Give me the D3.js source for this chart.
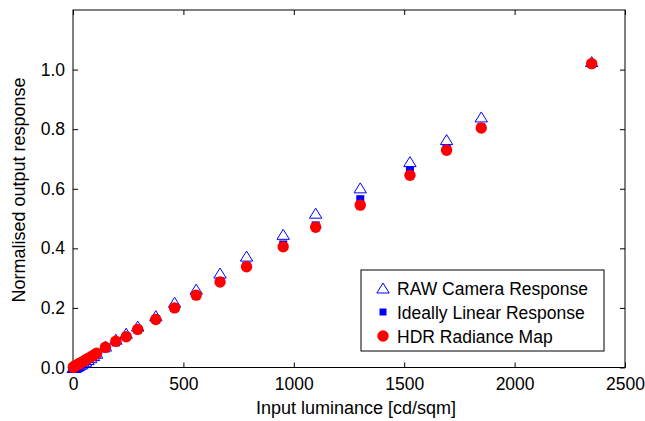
<!DOCTYPE html>
<html>
<head>
<meta charset="utf-8">
<script src="https://cdn.jsdelivr.net/npm/d3@7"></script>
<style>
  body { margin: 0; background: #fff; }
  text { font-family: "Liberation Sans", Arial, sans-serif; }
</style>
</head>
<body>
<svg id="svg1" width="645" height="421"></svg>
<script>
// luminance of each patch [cd/sqm]
var luminance = [1.5, 3, 5, 8, 12, 17, 23, 30, 38, 47, 57, 68, 80, 93, 107, 147, 194, 241, 293, 375, 460, 558, 666, 786, 952, 1099, 1301, 1526, 1692, 1849, 2349];
// normalised responses
var rawResponse = [0, 0, 0, 0.001, 0.002, 0.004, 0.006, 0.009, 0.012, 0.016, 0.021, 0.027, 0.033, 0.040, 0.048, 0.072, 0.095, 0.115, 0.139, 0.174, 0.219, 0.263, 0.317, 0.374, 0.447, 0.518, 0.603, 0.691, 0.765, 0.841, 1.027];
var linearResponse = [0.0007, 0.0013, 0.0022, 0.0035, 0.0052, 0.0074, 0.010, 0.013, 0.0165, 0.0204, 0.0247, 0.0295, 0.0347, 0.0404, 0.0464, 0.0638, 0.0842, 0.1046, 0.127, 0.163, 0.200, 0.242, 0.289, 0.341, 0.413, 0.477, 0.565, 0.662, 0.734, 0.806, 1.019];
var hdrResponse = [0.001, 0.0015, 0.0025, 0.004, 0.006, 0.008, 0.011, 0.014, 0.017, 0.021, 0.025, 0.030, 0.035, 0.041, 0.048, 0.068, 0.088, 0.103, 0.128, 0.161, 0.200, 0.243, 0.287, 0.338, 0.405, 0.471, 0.545, 0.645, 0.729, 0.804, 1.020];

var xTicks = [0, 500, 1000, 1500, 2000, 2500];
var yTicks = [0, 0.2, 0.4, 0.6, 0.8, 1.0];
var legendLabels = ["RAW Camera Response", "Ideally Linear Response", "HDR Radiance Map"];

// plot box (don't call these top/left, window.top is read only)
var boxLeft = 73, boxRight = 625, boxTop = 10, boxBottom = 367.5;
var fontSize = 17.5;

var svg = d3.select('svg');

var x = d3.scaleLinear().domain([0, 2500]).range([boxLeft, boxRight]);
var y = d3.scaleLinear().domain([0, 1.2]).range([boxBottom, boxTop]);

// axes, ticks pointing inwards like matlab
var xAxis = svg.append('g')
    .attr('transform', 'translate(0,' + boxBottom + ')')
    .call(d3.axisBottom(x).tickValues(xTicks).tickSizeInner(-5).tickSizeOuter(0).tickPadding(10).tickFormat(d3.format('d')));
var yAxis = svg.append('g')
    .attr('transform', 'translate(' + boxLeft + ',0)')
    .call(d3.axisLeft(y).tickValues(yTicks).tickSizeInner(-5).tickSizeOuter(0).tickPadding(8).tickFormat(d3.format('.1f')));
// top and right ticks, no labels
var xTop = svg.append('g')
    .attr('transform', 'translate(0,' + boxTop + ')')
    .call(d3.axisTop(x).tickValues(xTicks).tickSizeInner(-5).tickSizeOuter(0).tickFormat(''));
var yRight = svg.append('g')
    .attr('transform', 'translate(' + boxRight + ',0)')
    .call(d3.axisRight(y).tickValues(yTicks).tickSizeInner(-5).tickSizeOuter(0).tickFormat(''));

[xAxis, yAxis, xTop, yRight].forEach(function(g){
    g.select('.domain').remove();
    g.selectAll('line').attr('stroke', '#000');
    g.selectAll('text').attr('fill', '#000').style('font-size', fontSize + 'px').style('font-family', '"Liberation Sans", Arial, sans-serif');
});

svg.append('rect')
    .attr('x', boxLeft).attr('y', boxTop)
    .attr('width', boxRight - boxLeft).attr('height', boxBottom - boxTop)
    .attr('fill', 'none').attr('stroke', '#000').attr('stroke-width', 1);

// axis labels
svg.append('text')
    .attr('x', 356).attr('y', 414)
    .attr('text-anchor', 'middle')
    .style('font-size', '18px')
    .text('Input luminance [cd/sqm]');
svg.append('text')
    .attr('transform', 'translate(25,190) rotate(-90)')
    .attr('text-anchor', 'middle')
    .style('font-size', '18px')
    .text('Normalised output response');

// matlab style '^' marker, centred on the middle of its height
var tri = 'M0,-5L6.2,5L-6.2,5Z';

var plot = svg.append('g');

// raw camera: open triangles
plot.selectAll('.raw')
    .data(luminance)
    .enter().append('path')
    .attr('class', 'raw')
    .attr('d', tri)
    .attr('transform', function(d, i) { return 'translate(' + x(d) + ',' + y(rawResponse[i]) + ')'; })
    .attr('fill', 'none').attr('stroke', '#0000ff').attr('stroke-width', 1);

// ideal linear: filled squares
plot.selectAll('.lin')
    .data(luminance)
    .enter().append('rect')
    .attr('class', 'lin')
    .attr('x', function(d) { return x(d) - 4; })
    .attr('y', function(d, i) { return y(linearResponse[i]) - 4; })
    .attr('width', 8).attr('height', 8)
    .attr('fill', '#0000ff');

// hdr radiance map: red dots
plot.selectAll('.hdr')
    .data(luminance)
    .enter().append('circle')
    .attr('class', 'hdr')
    .attr('cx', function(d) { return x(d); })
    .attr('cy', function(d, i) { return y(hdrResponse[i]); })
    .attr('r', 5.7)
    .attr('fill', '#ff0000');

// legend
var legend = svg.append('g');
legend.append('rect')
    .attr('x', 361).attr('y', 270).attr('width', 243).attr('height', 81)
    .attr('fill', '#fff').attr('stroke', '#000').attr('stroke-width', 1);

var rowY = [288, 312, 336];
legend.append('path')
    .attr('d', tri)
    .attr('transform', 'translate(383,' + rowY[0] + ')')
    .attr('fill', 'none').attr('stroke', '#0000ff');
legend.append('rect')
    .attr('x', 379.5).attr('y', rowY[1] - 3.5).attr('width', 7).attr('height', 7)
    .attr('fill', '#0000ff');
legend.append('circle')
    .attr('cx', 383).attr('cy', rowY[2]).attr('r', 5.7)
    .attr('fill', '#ff0000');

legend.selectAll('.lbl')
    .data(legendLabels)
    .enter().append('text')
    .attr('class', 'lbl')
    .attr('x', 397)
    .attr('y', function(d, i) { return rowY[i] + 6.5; })
    .style('font-size', fontSize + 'px')
    .text(function(d) { return d; });
</script>
</body>
</html>
